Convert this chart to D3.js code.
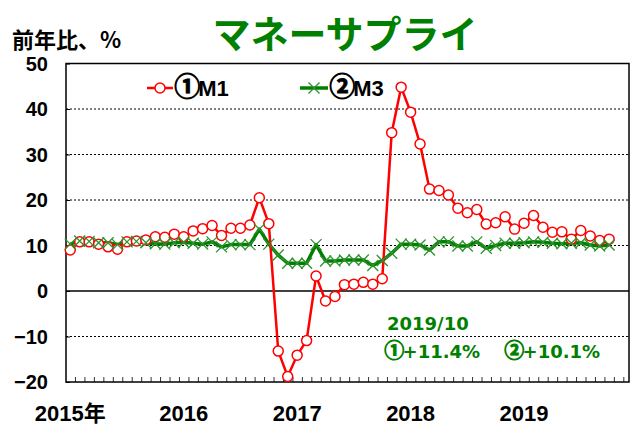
<!DOCTYPE html>
<html>
<head>
<meta charset="utf-8">
<script src="https://cdn.jsdelivr.net/npm/d3@7"></script>
<style>
  body { margin: 0; background: #fff; }
  svg { display: block; }
</style>
</head>
<body>
<div id="chart"></div>
<script>
// monthly, 2015/1 .. 2019/10, 前年比 %
const m1 = [9.0, 10.8, 10.8, 10.3, 9.7, 9.2, 10.8, 11.0, 11.2, 11.9,
    11.8, 12.5, 11.9, 13.2, 13.7, 14.4, 12.2, 13.8, 13.8, 14.5,
    20.5, 14.8, -13.2, -18.8, -14.1, -10.9, 3.3, -2.2, -1.2, 1.4,
    1.5, 1.9, 1.5, 2.7, 34.8, 44.8, 39.3, 32.3, 22.4, 22.1,
    21.1, 18.2, 17.2, 17.9, 14.7, 15.0, 16.3, 13.6, 14.9, 16.6,
    14.0, 12.9, 13.0, 11.4, 13.3, 12.1, 11.1, 11.4];
const m3 = [10.3, 11.0, 10.9, 10.6, 10.6, 10.2, 10.8, 10.9, 10.6, 10.4,
    10.3, 10.6, 10.7, 10.5, 10.3, 10.8, 9.7, 10.2, 10.2, 10.2,
    13.6, 10.3, 7.9, 6.1, 6.1, 6.1, 10.2, 6.6, 6.6, 6.8,
    6.8, 6.8, 5.6, 6.7, 8.3, 10.3, 10.3, 10.1, 9.0, 10.8,
    10.8, 9.9, 9.9, 10.8, 9.4, 10.0, 10.5, 10.5, 10.6, 10.8,
    10.7, 10.5, 10.4, 10.5, 10.6, 10.1, 9.9, 10.1];
const yTicks = [50, 40, 30, 20, 10, 0, -10, -20];
const yearLabels = ["2015年", "2016", "2017", "2018", "2019"];
const yearIndex = [0, 12, 24, 36, 48];
const seriesMarks = ["①", "②"];
const seriesNames = ["M1", "M3"];

const W = 636, H = 429;
const latin = "'Liberation Sans', Arial, 'Noto Sans CJK JP', sans-serif";
const cjk = "'Noto Sans CJK JP', sans-serif";
const green = "#008000";

const svg = d3.select("#chart").append("svg")
    .attr("width", W).attr("height", H);

const x = d3.scaleLinear().domain([-0.45, 59.1]).range([66, 629]);
const y = d3.scaleLinear().domain([-20, 50]).range([382, 63.5]);

// title
svg.append("text")
    .attr("x", 345).attr("y", 48)
    .attr("text-anchor", "middle")
    .attr("font-family", cjk).attr("font-weight", "bold")
    .attr("font-size", 38).attr("fill", green)
    .text("マネーサプライ");

svg.append("text")
    .attr("x", 12).attr("y", 48)
    .attr("font-family", cjk).attr("font-weight", "bold")
    .attr("font-size", 22).attr("fill", "#000")
    .text("前年比、%");

// grid lines
svg.append("g").selectAll("line")
    .data(yTicks.filter(d => d !== 50 && d !== -20 && d !== 0))
    .enter().append("line")
    .attr("x1", x.range()[0]).attr("x2", x.range()[1])
    .attr("y1", d => y(d)).attr("y2", d => y(d))
    .attr("stroke", "#000").attr("stroke-width", 1)
    .attr("stroke-dasharray", "2,2");

svg.append("line")
    .attr("x1", x.range()[0]).attr("x2", x.range()[1])
    .attr("y1", y(0)).attr("y2", y(0))
    .attr("stroke", "#000").attr("stroke-width", 1.5);

// y axis: labels outside, ticks inward
const yAxis = svg.append("g")
    .attr("transform", `translate(${x.range()[0]},0)`)
    .call(d3.axisRight(y).tickValues(yTicks).tickSize(4).tickFormat(""));
yAxis.select(".domain").remove();
yAxis.selectAll("line").attr("stroke", "#000");

svg.append("g").selectAll("text")
    .data(yTicks)
    .enter().append("text")
    .attr("x", 48).attr("y", d => y(d) + 7)
    .attr("text-anchor", "end")
    .attr("font-family", latin).attr("font-weight", "bold")
    .attr("font-size", 20).attr("fill", "#000")
    .text(d => d < 0 ? "\u2212" + Math.abs(d) : d);

// x axis: month ticks between points
const xAxis = svg.append("g")
    .attr("transform", `translate(0,${y(-20)})`)
    .call(d3.axisTop(x).tickValues(d3.range(0.5, 59, 1)).tickSize(5).tickFormat(""));
xAxis.select(".domain").remove();
xAxis.selectAll("line").attr("stroke", "#333");

svg.append("g").selectAll("text")
    .data(yearLabels)
    .enter().append("text")
    .attr("x", (d, i) => x(yearIndex[i]))
    .attr("y", 421)
    .attr("text-anchor", "middle")
    .attr("font-family", latin).attr("font-weight", "bold")
    .attr("font-size", 22).attr("fill", "#000")
    .text(d => d);

// frame
svg.append("rect")
    .attr("x", x.range()[0]).attr("y", y(50))
    .attr("width", x.range()[1] - x.range()[0])
    .attr("height", y(-20) - y(50))
    .attr("fill", "none").attr("stroke", "#000").attr("stroke-width", 1.5);

const line = d3.line().x((d, i) => x(i)).y(d => y(d));

svg.append("path").datum(m3)
    .attr("d", line).attr("fill", "none")
    .attr("stroke", green).attr("stroke-width", 3.5)
    .attr("stroke-linejoin", "round");

svg.append("path").datum(m1)
    .attr("d", line).attr("fill", "none")
    .attr("stroke", "#ff0000").attr("stroke-width", 2.5)
    .attr("stroke-linejoin", "round");

svg.append("g").selectAll("circle")
    .data(m1)
    .enter().append("circle")
    .attr("cx", (d, i) => x(i)).attr("cy", d => y(d))
    .attr("r", 5)
    .attr("fill", "#fff").attr("stroke", "#ff0000").attr("stroke-width", 1.5);

const cross = (cx, cy, s) => `M${cx - s},${cy - s}L${cx + s},${cy + s}M${cx - s},${cy + s}L${cx + s},${cy - s}`;

svg.append("g").selectAll("path")
    .data(m3)
    .enter().append("path")
    .attr("d", (d, i) => cross(x(i), y(d), 5.5))
    .attr("stroke", "#2e922e").attr("stroke-width", 1.3).attr("fill", "none");

// circled number + text, circle drawn bigger and heavier like the original
function markedText(g, px, py, mark, rest, size, markSize, color, family) {
    const t = g.append("text")
        .attr("x", px).attr("y", py)
        .attr("font-weight", "bold").attr("fill", color);
    t.append("tspan").attr("font-family", cjk).attr("font-size", markSize)
        .attr("stroke", color).attr("stroke-width", 0.9)
        .attr("dx", -(markSize * 0.14)).text(mark);
    t.append("tspan").attr("font-family", family).attr("font-size", size)
        .attr("dx", -(markSize * 0.08)).text(rest);
    return t;
}

// legend
const legend = svg.append("g");
legend.append("line").attr("x1", 147).attr("x2", 173).attr("y1", 88).attr("y2", 88)
    .attr("stroke", "#ff0000").attr("stroke-width", 2.5);
legend.append("circle").attr("cx", 160).attr("cy", 88).attr("r", 5)
    .attr("fill", "#fff").attr("stroke", "#ff0000").attr("stroke-width", 1.5);
legend.append("line").attr("x1", 300).attr("x2", 328).attr("y1", 88).attr("y2", 88)
    .attr("stroke", green).attr("stroke-width", 3.5);
legend.append("path").attr("d", cross(314, 88, 5.5))
    .attr("stroke", "#2e922e").attr("stroke-width", 1.3);
seriesNames.forEach((name, i) => {
    markedText(legend, i === 0 ? 178 : 333, 96, seriesMarks[i], name, 22, 26, "#000", latin);
});

// latest value note
const noteFont = "'DejaVu Sans', 'Noto Sans CJK JP', sans-serif";
svg.append("text")
    .attr("x", 387).attr("y", 330)
    .attr("font-family", noteFont).attr("font-weight", "bold")
    .attr("font-size", 18).attr("fill", green)
    .text("2019/10");
markedText(svg, 387, 358, seriesMarks[0], "+" + m1[m1.length - 1].toFixed(1) + "%", 18, 20, green, noteFont);
markedText(svg, 507, 358, seriesMarks[1], "+" + m3[m3.length - 1].toFixed(1) + "%", 18, 20, green, noteFont);
</script>
</body>
</html>
